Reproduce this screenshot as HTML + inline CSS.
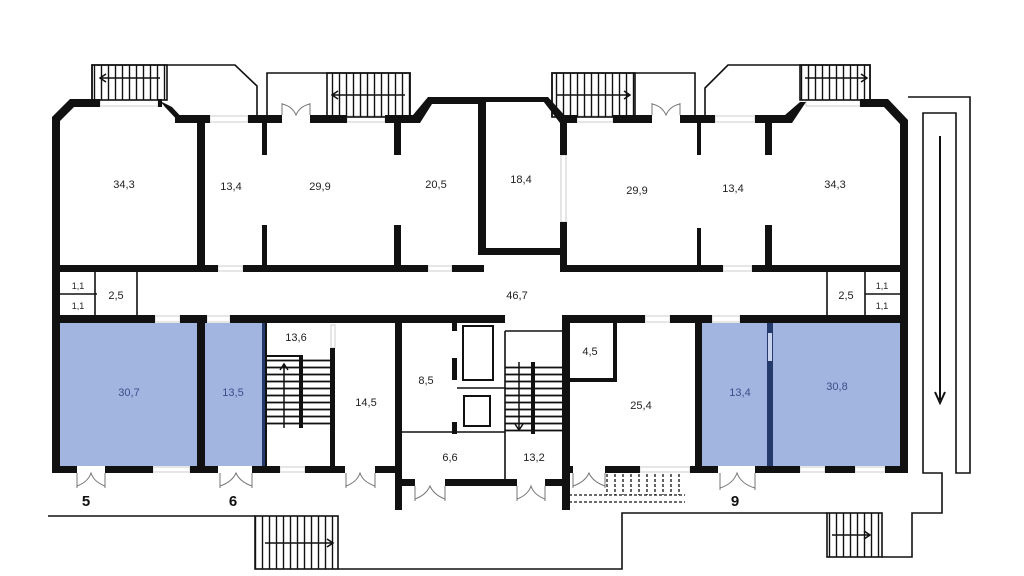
<!DOCTYPE html>
<html><head><meta charset="utf-8"><style>
html,body{margin:0;padding:0;background:#fff;}
svg{display:block;font-family:"Liberation Sans",sans-serif;}
</style></head><body>
<svg width="1024" height="576" viewBox="0 0 1024 576" xmlns="http://www.w3.org/2000/svg">
<defs>
<pattern id="vt" width="7" height="10" patternUnits="userSpaceOnUse"><line x1="3.5" y1="0" x2="3.5" y2="10" stroke="#111" stroke-width="1.4"/></pattern>
<pattern id="ht" width="10" height="7" patternUnits="userSpaceOnUse"><line x1="0" y1="3.5" x2="10" y2="3.5" stroke="#111" stroke-width="1.8"/></pattern>
</defs>
<rect width="1024" height="576" fill="#fff"/>

<!-- blue rooms -->
<rect x="60" y="323" width="137" height="143" fill="#a2b4e0"/>
<rect x="205" y="323" width="58" height="143" fill="#a2b4e0"/>
<rect x="702" y="323" width="68" height="143" fill="#a2b4e0"/>
<rect x="773" y="323" width="128" height="143" fill="#a2b4e0"/>
<rect x="767" y="323" width="6" height="143" fill="#243a6a"/>
<rect x="768" y="333" width="4" height="28" fill="#c6d2ee"/>
<rect x="262" y="323" width="3" height="143" fill="#243a6a"/>

<!-- windows (light frames) -->
<g fill="#fff" stroke="#ccc" stroke-width="1">
<rect x="100" y="100" width="58" height="6"/>
<rect x="210" y="116" width="38" height="6"/>
<rect x="347" y="116" width="38" height="6"/>
<rect x="577" y="116" width="36" height="6"/>
<rect x="715" y="116" width="40" height="6"/>
<rect x="806" y="100" width="54" height="6"/>
<rect x="218" y="266" width="25" height="5"/>
<rect x="428" y="266" width="24" height="5"/>
<rect x="723" y="266" width="29" height="5"/>
<rect x="155" y="316" width="25" height="6"/>
<rect x="207" y="316" width="23" height="6"/>
<rect x="645" y="316" width="25" height="6"/>
<rect x="712" y="316" width="28" height="6"/>
<rect x="153" y="467" width="37" height="5"/>
<rect x="280" y="467" width="25" height="5"/>
<rect x="640" y="467" width="50" height="5"/>
<rect x="800" y="467" width="25" height="5"/>
<rect x="855" y="467" width="30" height="5"/>
<rect x="561" y="155" width="5" height="67"/>
<rect x="331" y="325" width="4" height="23"/>
</g>

<!-- top stairs -->
<g fill="none" stroke="#111" stroke-width="1.6">
<path d="M92 100 V65 H235 L257 86 V117"/>
<rect x="92" y="65" width="75" height="35" fill="url(#vt)"/>
<path d="M267 117 V73 H410 V117"/>
<rect x="327" y="73" width="83" height="44" fill="url(#vt)"/>
<path d="M552 117 V73 H695 V117"/>
<rect x="552" y="73" width="83" height="44" fill="url(#vt)"/>
<path d="M705 117 V88 L728 65 H870 V100"/>
<rect x="800" y="65" width="70" height="35" fill="url(#vt)"/>
</g>
<g stroke="#111" stroke-width="1.5" fill="none">
<path d="M160 78 H100 M106 74 L100 78 L106 82"/>
<path d="M405 95 H332 M338 91 L332 95 L338 99"/>
<path d="M557 95 H630 M624 91 L630 95 L624 99"/>
<path d="M805 78 H867 M861 74 L867 78 L861 82"/>
</g>

<!-- ramp right -->
<g fill="none" stroke="#111" stroke-width="1.6">
<path d="M908 97 H970 V473 H956 V113 H923 V473 H942 V513 H912 V557 H882"/>
<path d="M940 136 V400 M935 392 L940 403 L945 392" stroke-width="2"/>
</g>

<!-- bottom outer paths -->
<g fill="none" stroke="#111" stroke-width="1.6">
<path d="M48 516 H255"/>
<rect x="255" y="516" width="83" height="53" fill="url(#vt)"/>
<path d="M338 569 H622 V513 H827"/>
<rect x="827" y="513" width="55" height="44" fill="url(#vt)"/>
<path d="M265 543 H333 M327 539 L333 543 L327 547"/>
<path d="M832 535 H870 M864 531 L870 535 L864 539"/>
</g>
<!-- dashed stairs -->
<g fill="none" stroke="#111" stroke-width="1.3" stroke-dasharray="3,2">
<path d="M569 495 H685 M569 502 H685"/>
<path d="M607 474 V495 M615 474 V495 M623 474 V495 M631 474 V495 M639 474 V495 M647 474 V495 M655 474 V495 M663 474 V495 M671 474 V495 M679 474 V495"/>
</g>

<!-- walls -->
<g fill="#111">
<path d="M52 117 L70 99 H100 V107 H74 L60 121 V466 H52 Z"/>
<rect x="158" y="99" width="4" height="8"/>
<path d="M160 101 L172 107 L187 123 L180 123 L165 107Z"/>
<rect x="175" y="115" width="35" height="8"/>
<rect x="248" y="115" width="34" height="8"/>
<rect x="310" y="115" width="37" height="8"/>
<rect x="385" y="115" width="32" height="8"/>
<path d="M413 115 L428 97 H480 V104 H432 L420 123 H413Z"/>
<rect x="478" y="97" width="8" height="158"/>
<rect x="484" y="97" width="60" height="5"/>
<path d="M540 97 H548 L567 118 V123 H560Z"/>
<rect x="484" y="248" width="80" height="7"/>
<rect x="560" y="115" width="17" height="8"/>
<rect x="613" y="115" width="39" height="8"/>
<rect x="680" y="115" width="35" height="8"/>
<rect x="755" y="115" width="35" height="8"/>
<path d="M785 115 L800 102 H806 L792 123 H785Z"/>
<rect x="860" y="99" width="25" height="8"/>
<path d="M880 99 H888 L908 120 V466 H900 V124 L884 107Z"/>
<rect x="197" y="123" width="8" height="147"/>
<rect x="262" y="123" width="5" height="32"/><rect x="262" y="225" width="5" height="45"/>
<rect x="394" y="123" width="7" height="32"/><rect x="394" y="225" width="7" height="45"/>
<rect x="560" y="123" width="7" height="32"/><rect x="560" y="222" width="7" height="48"/>
<rect x="697" y="123" width="4" height="32"/><rect x="697" y="228" width="4" height="42"/>
<rect x="765" y="123" width="7" height="32"/><rect x="765" y="225" width="7" height="45"/>
<rect x="52" y="265" width="166" height="7"/>
<rect x="243" y="265" width="185" height="7"/>
<rect x="452" y="265" width="32" height="7"/>
<rect x="560" y="265" width="163" height="7"/>
<rect x="752" y="265" width="156" height="7"/>
<rect x="52" y="315" width="103" height="8"/>
<rect x="180" y="315" width="27" height="8"/>
<rect x="230" y="315" width="275" height="8"/>
<rect x="562" y="315" width="83" height="8"/>
<rect x="670" y="315" width="42" height="8"/>
<rect x="740" y="315" width="168" height="8"/>
<rect x="197" y="323" width="8" height="150"/>
<rect x="265" y="323" width="2" height="143"/>
<rect x="330" y="348" width="5" height="118"/>
<rect x="395" y="315" width="7" height="195"/>
<rect x="562" y="315" width="8" height="195"/>
<rect x="695" y="323" width="7" height="150"/>
<rect x="452" y="323" width="5" height="8"/><rect x="452" y="358" width="5" height="22"/><rect x="452" y="422" width="5" height="12"/>
<rect x="52" y="466" width="25" height="7"/>
<rect x="105" y="466" width="48" height="7"/>
<rect x="190" y="466" width="28" height="7"/>
<rect x="252" y="466" width="28" height="7"/>
<rect x="305" y="466" width="40" height="7"/>
<rect x="375" y="466" width="27" height="7"/>
<rect x="395" y="479" width="20" height="7"/>
<rect x="445" y="479" width="72" height="7"/>
<rect x="545" y="479" width="25" height="7"/>
<rect x="570" y="466" width="3" height="7"/>
<rect x="605" y="466" width="35" height="7"/>
<rect x="690" y="466" width="28" height="7"/>
<rect x="755" y="466" width="45" height="7"/>
<rect x="825" y="466" width="30" height="7"/>
<rect x="885" y="466" width="23" height="7"/>
</g>

<!-- thin lines -->
<g fill="none" stroke="#111" stroke-width="1.6">
<path d="M60 294 H97 M95 272 V315 M137 272 V315"/>
<path d="M865 294 H900 M865 272 V315 M827 272 V315"/>
<path d="M505 331 H562 M505 331 V479 M402 432 H505 M457 388 H505"/>
<rect x="463" y="326" width="30" height="54" stroke-width="2"/>
<rect x="464" y="396" width="26" height="30" stroke-width="2"/>
<path d="M568 380 H615 V323" stroke-width="4"/>
</g>
<rect x="267" y="355" width="63" height="73" fill="url(#ht)"/>
<rect x="299" y="355" width="4" height="73" fill="#111"/>
<rect x="267" y="355" width="32" height="2" fill="#111"/>
<path d="M284 428 V364 M280 370 L284 364 L288 370" stroke="#111" stroke-width="1.5" fill="none"/>
<rect x="505" y="362" width="57" height="72" fill="url(#ht)"/>
<rect x="531" y="362" width="4" height="72" fill="#111"/>
<path d="M519 362 V430 M515 424 L519 430 L523 424" stroke="#111" stroke-width="1.5" fill="none"/>

<!-- doors -->
<g fill="none" stroke="#777" stroke-width="1">
<path d="M77 473 V488 M105 473 V488 M77 486 Q88 482 91 473 Q94 482 105 486"/>
<path d="M220 473 V488 M252 473 V488 M220 486 Q232 482 236 473 Q240 482 252 486"/>
<path d="M346 473 V488 M375 473 V488 M346 486 Q357 482 360 473 Q363 482 375 486"/>
<path d="M415 486 V501 M445 486 V501 M415 499 Q426 495 430 486 Q434 495 445 499"/>
<path d="M517 486 V501 M545 486 V501 M517 499 Q528 495 531 486 Q534 495 545 499"/>
<path d="M573 473 V488 M605 473 V488 M573 486 Q585 482 589 473 Q593 482 605 486"/>
<path d="M720 473 V490 M755 473 V490 M720 488 Q733 484 737 473 Q741 484 755 488"/>
<path d="M282 115 V103 M310 115 V103 M282 104 Q292 106 296 115 Q300 106 310 104"/>
<path d="M652 115 V103 M680 115 V103 M652 104 Q662 106 666 115 Q670 106 680 104"/>
</g>

<!-- labels -->
<g font-size="11" fill="#222" text-anchor="middle">
<text x="124" y="188">34,3</text>
<text x="231" y="190">13,4</text>
<text x="320" y="190">29,9</text>
<text x="436" y="188">20,5</text>
<text x="521" y="183">18,4</text>
<text x="637" y="194">29,9</text>
<text x="733" y="192">13,4</text>
<text x="835" y="188">34,3</text>
<text x="78" y="289" font-size="9">1,1</text>
<text x="78" y="309" font-size="9">1,1</text>
<text x="116" y="299">2,5</text>
<text x="517" y="299">46,7</text>
<text x="846" y="299">2,5</text>
<text x="882" y="289" font-size="9">1,1</text>
<text x="882" y="309" font-size="9">1,1</text>
<text x="296" y="341">13,6</text>
<text x="366" y="406">14,5</text>
<text x="426" y="384">8,5</text>
<text x="450" y="461">6,6</text>
<text x="534" y="461">13,2</text>
<text x="590" y="355">4,5</text>
<text x="641" y="409">25,4</text>
<g fill="#3a4f8a">
<text x="129" y="396">30,7</text>
<text x="233" y="396">13,5</text>
<text x="740" y="396">13,4</text>
<text x="837" y="390">30,8</text>
</g>
<g font-size="15" font-weight="bold" fill="#111">
<text x="86" y="506">5</text>
<text x="233" y="506">6</text>
<text x="735" y="506">9</text>
</g>
</g>
</svg>
</body></html>
